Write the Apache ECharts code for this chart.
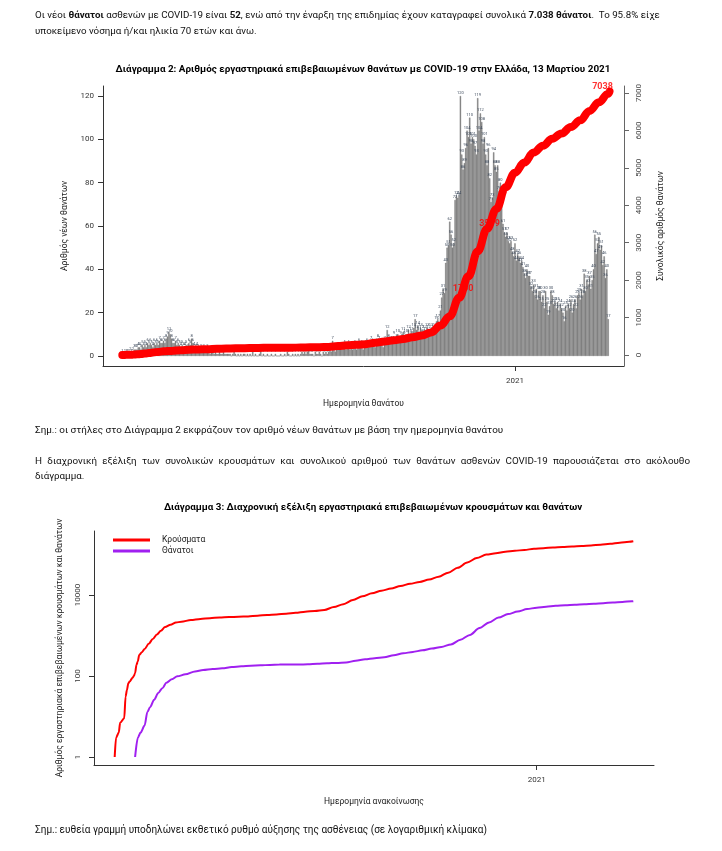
<!DOCTYPE html>
<html><head><meta charset="utf-8">
<script src="https://cdn.jsdelivr.net/npm/echarts@6/dist/echarts.min.js"></script>
<style>
html,body{margin:0;padding:0;background:#fff;width:722px;height:851px;overflow:hidden;}
#chart{position:absolute;left:0;top:0;width:722px;height:851px;}
.t{position:absolute;left:35px;font-family:Roboto,'Noto Sans',sans-serif;font-size:9.8px;color:#111;white-space:nowrap;}
.t b{font-weight:bold;}
</style></head><body>
<div id="chart"></div>
<div class="t" style="top:7px;line-height:16px;font-size:9.75px;">Οι νέοι <b>θάνατοι</b> ασθενών με COVID-19 είναι <b>52</b>, ενώ από την έναρξη της επιδημίας έχουν καταγραφεί συνολικά <b>7.038 θάνατοι</b>.&nbsp; Το 95.8% είχε<br>υποκείμενο νόσημα ή/και ηλικία 70 ετών και άνω.</div>
<div class="t" style="top:422px;line-height:16px;font-size:9.9px;">Σημ.: οι στήλες στο Διάγραμμα 2 εκφράζουν τον αριθμό νέων θανάτων με βάση την ημερομηνία θανάτου</div>
<div class="t" style="top:453px;line-height:16px;width:655px;text-align:justify;text-align-last:justify;">Η διαχρονική εξέλιξη των συνολικών κρουσμάτων και συνολικού αριθμού των θανάτων ασθενών COVID-19 παρουσιάζεται στο ακόλουθο</div>
<div class="t" style="top:468px;line-height:16px;">διάγραμμα.</div>
<div class="t" style="top:822px;line-height:16px;font-size:10px;">Σημ.: ευθεία γραμμή υποδηλώνει εκθετικό ρυθμό αύξησης της ασθένειας (σε λογαριθμική κλίμακα)</div>
<script>
// ---------- Diagram 2: daily deaths by date of death (from 2020-03-11) ----------
const START1 = '2020-03-11';
const deathsMar20 = [0,1,0,1,1,1,1,2,1,2,3,3,3,4,4,3,5,4,5,4,6];
const deathsApr20 = [5,6,5,4,6,5,6,5,7,6,6,7,6,8,9,11,10,8,6,6,7,5,6,5,4,5,4,4,5,3];
const deathsMay20 = [6,5,8,6,4,3,4,3,2,3,2,3,2,2,3,2,1,2,2,1,2,1,1,2,1,1,2,1,1,1,1];
const deathsJun20 = [1,0,1,2,1,0,1,0,1,0,1,1,0,1,0,1,0,3,0,1,0,0,1,3,0,1,0,0,1,0];
const deathsJul20 = [0,1,0,0,1,0,0,0,1,0,0,1,0,2,1,0,0,1,0,1,0,1,0,1,2,1,2,1,2,3,1];
const deathsAug20 = [1,1,0,2,1,1,2,1,0,2,1,2,1,2,3,2,7,3,2,3,4,3,4,3,4,5,3,4,5,3,4];
const deathsSep20 = [3,4,5,3,4,6,4,5,3,4,5,6,4,5,7,6,5,4,6,8,7,5,6,4,7,6,12,8,6,7];
const deathsOct20 = [7,9,6,8,10,7,9,8,11,9,10,8,12,10,11,9,13,17,12,14,11,13,12,10,12,11,13,12,10,13,11];
const deathsNov20 = [12,13,16,17,14,21,27,31,29,43,50,51,62,56,50,52,72,74,73,74,120,93,86,89,96,104,101,110,98,101];
const deathsDec20 = [100,97,93,119,104,112,108,98,101,93,88,96,82,71,73,94,88,85,88,76,80,70,61,57,55,57,53,52,53,48,46];
const deathsJan21 = [52,44,47,46,43,44,41,38,36,40,37,37,32,30,33,28,31,26,30,30,25,28,22,30,25,19,23,30,28,24,25];
const deathsFeb21 = [22,25,21,24,22,20,16,23,21,24,22,26,20,24,26,22,28,29,26,31,28,38,30,35,33,37,31,35];
const deathsMar21 = [40,56,47,52,55,49,51,42,46,36,40,17];

// cumulative deaths (announced totals), read from the red / purple curves
const cumDeathDates = ['2020-03-12','2020-03-14','2020-03-16','2020-03-19','2020-03-21','2020-03-23','2020-03-26','2020-03-29',
 '2020-04-01','2020-04-04','2020-04-08','2020-04-12','2020-04-18','2020-04-25','2020-05-01','2020-05-08','2020-05-15','2020-05-22','2020-05-29',
 '2020-06-05','2020-06-12','2020-06-19','2020-06-26','2020-07-03','2020-07-10','2020-07-17','2020-07-24','2020-07-31',
 '2020-08-07','2020-08-14','2020-08-21','2020-08-28','2020-09-04','2020-09-11','2020-09-18','2020-09-25',
 '2020-10-02','2020-10-09','2020-10-16','2020-10-23','2020-10-30','2020-11-06','2020-11-13','2020-11-20','2020-11-27',
 '2020-12-04','2020-12-11','2020-12-18','2020-12-25','2021-01-01','2021-01-08','2021-01-15','2021-01-22','2021-01-29',
 '2021-02-05','2021-02-12','2021-02-19','2021-02-26','2021-03-05','2021-03-12','2021-03-13'];
const cumDeaths = [1,3,4,6,13,17,26,38,
 50,68,83,98,110,130,140,148,155,166,173,
 180,183,188,191,192,193,194,200,206,
 210,216,238,259,276,290,327,363,
 393,430,474,520,603,786,1035,1527,2102,
 2770,3370,3900,4480,4870,5140,5410,5590,5780,
 5920,6090,6270,6520,6750,6980,7038];

const milestoneDates = ['2020-11-23','2020-12-13','2021-03-13'];
const milestoneValues = [1760, 3519, 7038];

const leftTicks = [0,20,40,60,80,100,120];
const rightTicks = [0,1000,2000,3000,4000,5000,6000,7000];

// ---------- Diagram 3: cumulative cases (announced), from 2020-02-26 ----------
const START3 = '2020-02-26';
const caseDates = ['2020-02-26','2020-02-27','2020-02-29','2020-03-01','2020-03-04','2020-03-05','2020-03-06','2020-03-07','2020-03-08',
 '2020-03-10','2020-03-11','2020-03-12','2020-03-13','2020-03-14','2020-03-15','2020-03-17','2020-03-19','2020-03-22','2020-03-25',
 '2020-03-28','2020-03-31','2020-04-03','2020-04-07','2020-04-11','2020-04-15','2020-04-22','2020-04-29','2020-05-06','2020-05-13',
 '2020-05-20','2020-05-27','2020-06-03','2020-06-10','2020-06-17','2020-06-24','2020-07-01','2020-07-08','2020-07-15','2020-07-22',
 '2020-07-29','2020-08-05','2020-08-12','2020-08-19','2020-08-26','2020-09-02','2020-09-09','2020-09-16','2020-09-23','2020-09-30',
 '2020-10-07','2020-10-14','2020-10-21','2020-10-28','2020-11-04','2020-11-11','2020-11-18','2020-11-25','2020-12-02','2020-12-09',
 '2020-12-16','2020-12-23','2020-12-30','2021-01-06','2021-01-13','2021-01-20','2021-01-27','2021-02-03','2021-02-10','2021-02-17',
 '2021-02-24','2021-03-03','2021-03-10','2021-03-13'];
const cases = [1,3,4,7,9,31,45,66,73,
 89,99,117,190,228,331,387,464,624,821,
 1061,1314,1613,1832,2081,2192,2408,2566,2678,2770,
 2850,2903,2952,3089,3203,3302,3458,3623,3852,4048,
 4279,5042,5942,7472,9280,10998,12734,14400,16627,18886,
 21000,24000,28216,35510,46892,63321,82034,99306,106853,116521,
 122862,129784,137660,143441,148728,152288,156916,161300,167000,174000,
 183000,194000,205000,211000];
const logTicks = [1,100,10000];

// ---------- build ----------
const DAY = 86400000;
const dayIndex = (s, start) => Math.round((Date.parse(s) - Date.parse(start)) / DAY);
const deaths = [].concat(deathsMar20, deathsApr20, deathsMay20, deathsJun20, deathsJul20, deathsAug20,
  deathsSep20, deathsOct20, deathsNov20, deathsDec20, deathsJan21, deathsFeb21, deathsMar21);
const barData = deaths.map((v, i) => [i, v]);
const cumLine1 = cumDeathDates.map((d, i) => [dayIndex(d, START1), cumDeaths[i]]);
const milestoneData = milestoneDates.map((d, i) => [dayIndex(d, START1), milestoneValues[i]]);
const casesLine = caseDates.map((d, i) => [dayIndex(d, START3), cases[i]]);
const deathsLine3 = cumDeathDates.map((d, i) => [dayIndex(d, START3), cumDeaths[i]]);
const tick2021a = dayIndex('2021-01-01', START1);
const tick2021b = dayIndex('2021-01-01', START3);
const plain = v => String(v);

const FONT = 'Roboto';
const axisCol = '#333';
const chart = echarts.init(document.getElementById('chart'), null, {renderer: 'canvas'});
chart.setOption({
  backgroundColor: '#fff',
  animation: false,
  textStyle: {fontFamily: FONT},
  graphic: [
    {type: 'text', x: 363, y: 70, style: {text: 'Διάγραμμα 2: Αριθμός εργαστηριακά επιβεβαιωμένων θανάτων με COVID-19 στην Ελλάδα, 13 Μαρτίου 2021',
      fontSize: 9.9, fontWeight: 'bold', fontFamily: FONT, fill: '#000', align: 'center', verticalAlign: 'middle', textAlign: 'center', textVerticalAlign: 'middle'}},
    {type: 'text', x: 373, y: 508, style: {text: 'Διάγραμμα 3: Διαχρονική εξέλιξη εργαστηριακά επιβεβαιωμένων κρουσμάτων και θανάτων',
      fontSize: 9.8, fontWeight: 'bold', fontFamily: FONT, fill: '#000', align: 'center', verticalAlign: 'middle', textAlign: 'center', textVerticalAlign: 'middle'}}
  ],
  grid: [
    {left: 103, right: 98, top: 86, bottom: 485},
    {left: 94, right: 68, top: 531, bottom: 86}
  ],
  legend: {
    data: ['Κρούσματα', 'Θάνατοι'], orient: 'vertical', left: 113, top: 535, padding: 0,
    icon: 'rect', itemWidth: 37, itemHeight: 3, itemGap: 1,
    textStyle: {fontSize: 8.5, fontFamily: FONT, color: '#222', padding: [0, 0, 0, 7], lineHeight: 10}
  },
  xAxis: [
    {gridIndex: 0, type: 'value', min: -13.5, max: 377.9,
     axisLine: {show: true, onZero: false, lineStyle: {color: axisCol, width: 1}},
     axisTick: {show: true, length: 5, customValues: [tick2021a], lineStyle: {color: axisCol}},
     axisLabel: {customValues: [tick2021a], formatter: () => '2021', fontSize: 8, color: '#333', margin: 11},
     splitLine: {show: false},
     name: 'Ημερομηνία θανάτου', nameLocation: 'middle', nameGap: 33,
     nameTextStyle: {fontSize: 8.5, color: '#222'}},
    {gridIndex: 1, type: 'value', min: -15.2, max: 396.2,
     axisLine: {show: true, onZero: false, lineStyle: {color: axisCol, width: 1}},
     axisTick: {show: true, length: 5, customValues: [tick2021b], lineStyle: {color: axisCol}},
     axisLabel: {customValues: [tick2021b], formatter: () => '2021', fontSize: 8, color: '#333', margin: 11},
     splitLine: {show: false},
     name: 'Ημερομηνία ανακοίνωσης', nameLocation: 'middle', nameGap: 32,
     nameTextStyle: {fontSize: 8.5, color: '#222'}}
  ],
  yAxis: [
    {gridIndex: 0, type: 'value', min: -4.615, max: 124.6,
     axisLine: {show: true, onZero: false, lineStyle: {color: axisCol, width: 1}},
     axisTick: {show: true, length: 5, customValues: leftTicks, lineStyle: {color: axisCol}},
     axisLabel: {customValues: leftTicks, formatter: plain, fontSize: 8, color: '#333', margin: 9},
     splitLine: {show: false},
     name: 'Αριθμός νέων θανάτων', nameLocation: 'middle', nameRotate: 90, nameGap: 29,
     nameTextStyle: {fontSize: 8.5, color: '#222'}},
    {gridIndex: 0, type: 'value', position: 'right', min: -294, max: 7187,
     axisLine: {show: true, onZero: false, lineStyle: {color: '#666', width: 1}},
     axisTick: {show: true, length: 5, customValues: rightTicks, lineStyle: {color: '#666'}},
     axisLabel: {customValues: rightTicks, formatter: plain, rotate: 90, fontSize: 8, color: '#444', margin: 11},
     splitLine: {show: false},
     name: 'Συνολικός αριθμός θανάτων', nameLocation: 'middle', nameRotate: 90, nameGap: 32,
     nameTextStyle: {fontSize: 8.5, color: '#222'}},
    {gridIndex: 1, type: 'log', logBase: 10, min: 0.6346, max: 380000,
     axisLine: {show: true, onZero: false, lineStyle: {color: axisCol, width: 1}},
     axisTick: {show: true, length: 5, customValues: logTicks, lineStyle: {color: axisCol}},
     axisLabel: {customValues: logTicks, formatter: plain, rotate: 90, fontSize: 8, color: '#333', margin: 12},
     splitLine: {show: false},
     name: 'Αριθμός εργαστηριακά επιβεβαιωμένων κρουσμάτων και θανάτων', nameLocation: 'middle', nameRotate: 90, nameGap: 30,
     nameTextStyle: {fontSize: 8.5, color: '#222'}}
  ],
  series: [
    {name: 'Νέοι θάνατοι', type: 'bar', xAxisIndex: 0, yAxisIndex: 0, data: barData, barWidth: '100%', z: 2,
     itemStyle: {color: '#7c7c7c', borderColor: '#7c7c7c', borderWidth: 0.4},
     label: {show: true, position: 'top', distance: 1, fontSize: 4, color: '#3d4a5c',
       formatter: p => (p.value[1] > 0 ? String(p.value[1]) : '')}},
    {name: 'Συνολικοί θάνατοι', type: 'line', xAxisIndex: 0, yAxisIndex: 1, data: cumLine1, z: 3,
     smooth: 0.4, smoothMonotone: 'x', symbol: 'none',
     lineStyle: {color: '#ff0000', width: 8, cap: 'round', join: 'round'}},
    {name: 'milestones', type: 'scatter', xAxisIndex: 0, yAxisIndex: 1, data: milestoneData, z: 4,
     symbolSize: 1, itemStyle: {color: 'rgba(0,0,0,0)'},
     label: {show: true, position: 'inside', formatter: p => String(p.value[1]),
       fontSize: 9, fontWeight: 'bold', color: '#ff0000', offset: [0, -6]},
     labelLayout: p => (p.dataIndex === 2 ? {dx: -7, dy: -5} : {})},
    {name: 'Κρούσματα', type: 'line', xAxisIndex: 1, yAxisIndex: 2, data: casesLine,
     smooth: 0.3, smoothMonotone: 'x', symbol: 'none', color: '#ff0000',
     lineStyle: {color: '#ff0000', width: 2}},
    {name: 'Θάνατοι', type: 'line', xAxisIndex: 1, yAxisIndex: 2, data: deathsLine3,
     smooth: 0.3, smoothMonotone: 'x', symbol: 'none', color: '#a020f0',
     lineStyle: {color: '#a020f0', width: 2}}
  ]
});
</script>
</body></html>
